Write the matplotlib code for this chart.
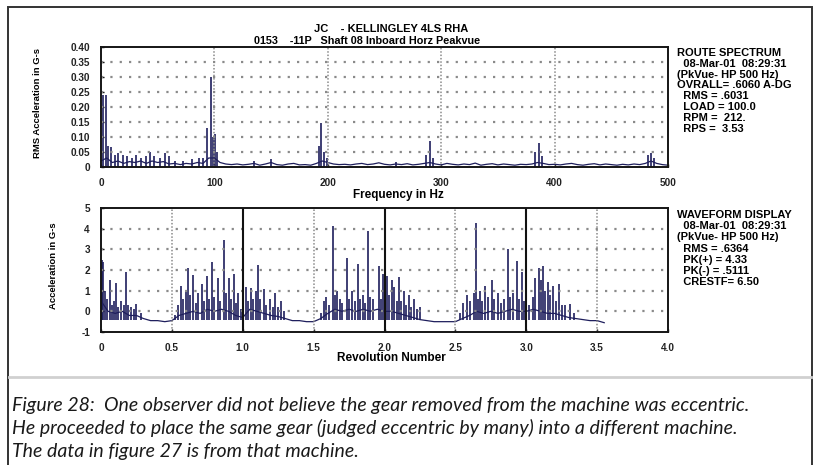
import matplotlib
matplotlib.use("Agg")
import matplotlib.pyplot as plt
import numpy as np

plt.rcParams["axes.unicode_minus"] = False

# ---- spectrum (top) ----
spec_grid_hz = np.arange(0, 501, 5)
spec_floor = [0.02, 0.03, 0.015, 0.02, 0.012, 0.018, 0.015, 0.02, 0.012, 0.02,
              0.015, 0.018, 0.01, 0.012, 0.008, 0.012, 0.01, 0.015, 0.012, 0.03,
              0.03, 0.015, 0.01, 0.008, 0.01, 0.007, 0.009, 0.012, 0.006, 0.01,
              0.015, 0.008, 0.006, 0.01, 0.012, 0.007, 0.008, 0.006, 0.012, 0.02,
              0.015, 0.01, 0.008, 0.009, 0.007, 0.01, 0.012, 0.008, 0.01, 0.014,
              0.009, 0.007, 0.01, 0.008, 0.011, 0.007, 0.009, 0.012, 0.015, 0.01,
              0.007, 0.012, 0.009, 0.007, 0.01, 0.008, 0.013, 0.006, 0.009, 0.011,
              0.007, 0.01, 0.008, 0.006, 0.009, 0.008, 0.01, 0.015, 0.012, 0.008,
              0.009, 0.007, 0.01, 0.012, 0.008, 0.006, 0.009, 0.011, 0.007, 0.01,
              0.008, 0.006, 0.009, 0.007, 0.01, 0.008, 0.012, 0.02, 0.012, 0.008,
              0.006]
peak_hz = [2, 4.5, 6, 9, 12, 15, 19, 23, 27, 31, 35, 40, 43, 47, 52, 56, 60, 65,
           72, 80, 86, 90, 93.5, 97, 99, 100.5, 102, 135, 150, 192, 194, 197,
           199, 260, 287, 290, 293, 383, 386, 389, 482, 485, 488]
peak_g = [0.24, 0.24, 0.07, 0.065, 0.04, 0.045, 0.04, 0.035, 0.03, 0.04, 0.03,
          0.035, 0.05, 0.035, 0.03, 0.045, 0.035, 0.02, 0.02, 0.025, 0.03, 0.03,
          0.13, 0.30, 0.10, 0.11, 0.05, 0.02, 0.025, 0.07, 0.145, 0.05, 0.03,
          0.015, 0.04, 0.085, 0.03, 0.05, 0.08, 0.035, 0.04, 0.047, 0.03]

# ---- waveform (bottom) ----
wave_grid_rev = np.arange(0, 3.56, 0.05)
wave_floor = [0.5, 0.0, -0.1, 0.0, -0.2, -0.2, -0.35, -0.45, -0.45, -0.5,
              -0.45, -0.2, -0.1, 0.0, -0.1, 0.1, 0.0, 0.1, 0.0, -0.2,
              -0.3, 0.1, 0.0, -0.1, -0.2, -0.25, -0.35, -0.45, -0.45, -0.5,
              -0.5, -0.35, -0.1, 0.1, 0.0, 0.1, 0.0, 0.1, 0.0, 0.1,
              0.0, 0.0, -0.1, -0.2, -0.3, -0.4, -0.45, -0.5, -0.5, -0.5,
              -0.5, -0.35, -0.2, 0.0, -0.1, 0.0, -0.1, 0.0, 0.1, 0.0,
              0.0, 0.1, 0.0, -0.1, -0.1, -0.2, -0.3, -0.35, -0.4, -0.45,
              -0.45, -0.55]
spike_rev = [0.005, 0.015, 0.03, 0.045, 0.06, 0.075, 0.09, 0.105, 0.12, 0.14,
             0.16, 0.175, 0.19, 0.21, 0.235, 0.25, 0.28,
             0.52, 0.54, 0.565, 0.58, 0.6, 0.615, 0.63, 0.65, 0.67, 0.685,
             0.71, 0.725, 0.745, 0.76, 0.785, 0.80, 0.825, 0.84, 0.865, 0.88,
             0.90, 0.915, 0.935, 0.95, 0.97, 0.99,
             1.02, 1.035, 1.055, 1.07, 1.09, 1.11, 1.125, 1.15, 1.165, 1.19,
             1.21, 1.23, 1.25, 1.27, 1.29,
             1.55, 1.57, 1.59, 1.61, 1.635, 1.65, 1.665, 1.685, 1.70, 1.735,
             1.75, 1.77, 1.79, 1.81, 1.83, 1.85, 1.865, 1.885, 1.90, 1.92,
             1.96, 1.975, 1.99, 2.02, 2.035, 2.05, 2.07, 2.085, 2.10, 2.115,
             2.135, 2.15, 2.17, 2.19, 2.205, 2.23, 2.25,
             2.53, 2.555, 2.585, 2.60, 2.63, 2.645, 2.66, 2.675, 2.69, 2.71,
             2.73, 2.755, 2.77, 2.80, 2.82, 2.84, 2.87, 2.885, 2.905, 2.935,
             2.95, 2.97, 2.985, 3.00, 3.02, 3.05, 3.065, 3.09, 3.105, 3.12,
             3.135, 3.15, 3.17, 3.19, 3.21, 3.23, 3.25, 3.27, 3.31, 3.34]
spike_g = [2.5, 2.4, 1.0, 0.6, 1.5, 0.3, 0.5, 1.35, 0.2, 0.5,
           0.3, 1.9, 0.3, 0.2, 0.1, 0.35, -0.1,
           -0.2, 0.3, 1.25, 0.6, 1.0, 2.1, 0.8, 1.75, 0.4, 0.9,
           1.3, 0.5, 1.7, 0.6, 2.4, 0.7, 1.6, 0.5, 3.45, 0.9,
           1.6, 0.6, 1.8, 0.4, 0.9, 0.1,
           1.2, 0.5, 1.15, 0.6, 1.0, 2.25, 0.6, 1.1, 0.3, 0.6,
           0.2, 0.9, 0.2, 0.5, 0.0,
           -0.1, 0.5, 0.7, 0.3, 4.15, 0.8, 1.0, 0.6, 0.4, 2.6,
           0.6, 1.0, 0.5, 2.3, 0.6, 0.8, 0.4, 3.9, 0.7, 0.6,
           2.2, 0.6, 1.8, 1.7, 0.8, 1.5, 1.2, 0.5, 1.65, 0.5,
           1.0, 0.3, 0.8, 0.2, 0.6, 0.1, 0.2,
           -0.1, 0.4, 0.8, 0.5, 0.9, 4.25, 0.6, 1.0, 0.5, 1.25,
           0.7, 1.5, 0.6, 0.9, 0.4, 0.6, 3.0, 0.7, 0.9, 2.45,
           0.6, 1.9, 0.5, 0.5, 0.3, 0.7, 1.6, 2.1, 1.5, 2.2,
           1.0, 1.4, 0.8, 1.25, 0.5, 1.3, 0.3, 0.3, 0.35, -0.1]

title_lines = ["JC    - KELLINGLEY 4LS RHA",
               "0153    -11P   Shaft 08 Inboard Horz Peakvue"]
spec_info = ["ROUTE SPECTRUM", "  08-Mar-01  08:29:31", "(PkVue- HP 500 Hz)",
             "OVRALL= .6060 A-DG", "  RMS = .6031", "  LOAD = 100.0",
             "  RPM =  212.", "  RPS =  3.53"]
wave_info = ["WAVEFORM DISPLAY", "  08-Mar-01  08:29:31", "(PkVue- HP 500 Hz)",
             "  RMS = .6364", "  PK(+) = 4.33", "  PK(-) = .5111",
             "  CRESTF= 6.50"]
caption = ["Figure 28:  One observer did not believe the gear removed from the machine was eccentric.",
           "He proceeded to place the same gear (judged eccentric by many) into a different machine.",
           "The data in figure 27 is from that machine."]

W, H = 817, 465
trace = "#1e1e5c"
dot_grid = dict(color="#8a8a8a", lw=1.6, ls=(0, (1, 3.2)))
vdot_grid = dict(color="#8a8a8a", lw=1.1, ls=(0, (1, 1.2)))
bold = dict(family="Liberation Sans", weight="bold")


def px(x, y):
    return x / W, 1 - y / H


def box(l, t, r, b):
    return [l / W, 1 - b / H, (r - l) / W, (b - t) / H]


fig = plt.figure(figsize=(W / 100, H / 100), dpi=100)
fig.patch.set_facecolor("white")

# outer frame + caption separator
fig.add_artist(plt.Rectangle(px(8, 472), (812 - 8) / W, (472 - 7) / H,
                             transform=fig.transFigure, fill=False,
                             ec="#333333", lw=1.4))
fig.add_artist(plt.Line2D([9 / W, 811 / W], [1 - 377 / H] * 2,
                          transform=fig.transFigure, color="#d0d0d0", lw=2))

# --- top: route spectrum ---
ax1 = fig.add_axes(box(101, 47, 668, 167))
ax1.plot(spec_grid_hz, spec_floor, color=trace, lw=0.9)
ax1.vlines(peak_hz, 0, peak_g, color=trace, lw=1.2)
ax1.set_xlim(0, 500)
ax1.set_ylim(0, 0.40)
for v in np.arange(0.05, 0.36, 0.05):
    ax1.axhline(v, **dot_grid)
for v in [100, 200, 300, 400]:
    ax1.axvline(v, **vdot_grid)
ax1.set_xticks([0, 100, 200, 300, 400, 500])
ax1.set_yticks(np.arange(0, 0.41, 0.05))
ax1.set_yticklabels(["0"] + ["%.2f" % v for v in np.arange(0.05, 0.41, 0.05)])
ax1.set_xlabel("Frequency in Hz", fontsize=8.5, **bold)
ax1.set_ylabel("RMS Acceleration in G-s", fontsize=6.8, **bold)
ax1.xaxis.set_label_coords(*px(398, 195), transform=fig.transFigure)
ax1.yaxis.set_label_coords(*px(38, 103), transform=fig.transFigure)

# --- bottom: waveform ---
ax2 = fig.add_axes(box(101, 208, 668, 332))
ax2.plot(wave_grid_rev, wave_floor, color=trace, lw=0.9)
ax2.vlines(spike_rev, -0.4, spike_g, color=trace, lw=1.2)
ax2.set_xlim(0, 4)
ax2.set_ylim(-1, 5)
for v in range(0, 5):
    ax2.axhline(v, **dot_grid)
for v in [0.5, 1.5, 2.5, 3.5]:
    ax2.axvline(v, **vdot_grid)
for v in [1, 2, 3]:
    ax2.axvline(v, color="#111111", lw=1.5)
ax2.set_xticks([0, 0.5, 1, 1.5, 2, 2.5, 3, 3.5, 4])
ax2.set_xticklabels(["0", "0.5", "1.0", "1.5", "2.0", "2.5", "3.0", "3.5", "4.0"])
ax2.set_yticks(range(-1, 6))
ax2.set_xlabel("Revolution Number", fontsize=8.5, **bold)
ax2.set_ylabel("Acceleration in G-s", fontsize=6.8, **bold)
ax2.xaxis.set_label_coords(*px(391, 358), transform=fig.transFigure)
ax2.yaxis.set_label_coords(*px(53, 266), transform=fig.transFigure)

for ax in (ax1, ax2):
    for s in ax.spines.values():
        s.set_linewidth(1.4)
        s.set_color("#151515")
    ax.tick_params(direction="in", length=2, width=1, pad=8, labelsize=7.2)
    for lab in ax.get_xticklabels() + ax.get_yticklabels():
        lab.set_fontfamily("Liberation Sans")
        lab.set_fontweight("bold")
        lab.set_color("#222222")
    ax.xaxis.label.set_va("center")
    ax.yaxis.label.set_va("center")

# titles and info blocks
fig.text(*px(391, 29), title_lines[0], ha="center", va="center", fontsize=8, **bold)
fig.text(*px(367, 41), title_lines[1], ha="center", va="center", fontsize=7.8, **bold)
for i, line in enumerate(spec_info):
    fig.text(*px(677, 53 + i * 10.8), line, ha="left", va="center",
             fontsize=8, **bold)
for i, line in enumerate(wave_info):
    fig.text(*px(677, 215 + i * 11.2), line, ha="left", va="center",
             fontsize=8, **bold)

for i, line in enumerate(caption):
    fig.text(*px(12, 405 + i * 23), line, ha="left", va="center", fontsize=14,
             family="Lato", style="italic", color="#1a1a1a")

fig.savefig("out.png", dpi=100)
